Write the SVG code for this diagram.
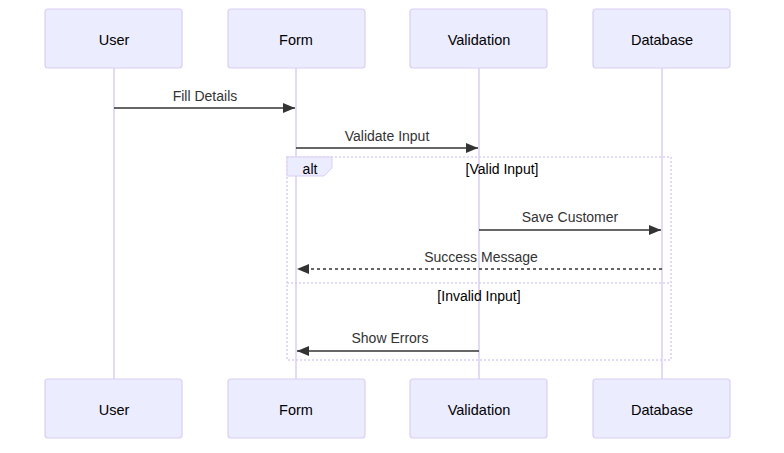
<svg xmlns="http://www.w3.org/2000/svg" width="784" height="453" viewBox="0 0 784 453">
<defs>
<style>
.actor{fill:#ECECFF;stroke:#DACEF3;stroke-width:1.2}
.atext{font-family:"Liberation Sans",Arial,sans-serif;font-size:14.5px;fill:#000;text-anchor:middle;dominant-baseline:central}
.life{stroke:#DACEF3;stroke-width:1.5}
.msg{stroke:#333;stroke-width:1.5;fill:none}
.dash{stroke-dasharray:3,3}
.mtext{font-family:"Liberation Sans",Arial,sans-serif;font-size:14px;fill:#333;text-anchor:middle}
.frame{fill:none;stroke:#DACEF3;stroke-width:1.5;stroke-dasharray:2,2}
.ltext{font-family:"Liberation Sans",Arial,sans-serif;font-size:14px;fill:#000;text-anchor:middle}
</style>
<marker id="ah" viewBox="0 0 12 10" refX="12" refY="5" markerWidth="12" markerHeight="10" markerUnits="userSpaceOnUse" orient="auto">
<path d="M0,0 L12,5 L0,10 z" fill="#333"/>
</marker>
</defs>
<g id="lifelines">
<line class="life" x1="114" y1="68" x2="114" y2="379"/>
<line class="life" x1="296" y1="68" x2="296" y2="379"/>
<line class="life" x1="479" y1="68" x2="479" y2="379"/>
<line class="life" x1="662" y1="68" x2="662" y2="379"/>
</g>
<g id="actor-user-top"><rect class="actor" x="45" y="9" width="137" height="59" rx="3"/><text class="atext" x="114" y="40">User</text></g>
<g id="actor-form-top"><rect class="actor" x="228" y="9" width="137" height="59" rx="3"/><text class="atext" x="296" y="40">Form</text></g>
<g id="actor-validation-top"><rect class="actor" x="410" y="9" width="137" height="59" rx="3"/><text class="atext" x="479" y="40">Validation</text></g>
<g id="actor-database-top"><rect class="actor" x="593" y="9" width="137" height="59" rx="3"/><text class="atext" x="662" y="40">Database</text></g>
<g id="alt-frame">
<rect class="frame" x="287" y="157" width="384" height="203"/>
<path d="M287,157 L332,157 L332,168 L324,176 L287,176 z" fill="#ECECFF" stroke="#DACEF3" stroke-width="1"/>
<text class="ltext" x="310" y="174">alt</text>
<text class="ltext" x="502" y="174">[Valid Input]</text>
<line class="frame" x1="287" y1="283" x2="671" y2="283"/>
<text class="ltext" x="479" y="301">[Invalid Input]</text>
</g>
<g id="connectors">
<line class="msg" x1="114" y1="108" x2="295" y2="108" marker-end="url(#ah)"/>
<text class="mtext" x="205" y="101">Fill Details</text>
<line class="msg" x1="296" y1="148" x2="478" y2="148" marker-end="url(#ah)"/>
<text class="mtext" x="387" y="141">Validate Input</text>
<line class="msg" x1="479" y1="230" x2="661" y2="230" marker-end="url(#ah)"/>
<text class="mtext" x="570" y="222">Save Customer</text>
<line class="msg dash" x1="662" y1="269" x2="297" y2="269" marker-end="url(#ah)"/>
<text class="mtext" x="481" y="262">Success Message</text>
<line class="msg" x1="479" y1="351" x2="297" y2="351" marker-end="url(#ah)"/>
<text class="mtext" x="390" y="343">Show Errors</text>
</g>
<g id="actor-user-bottom"><rect class="actor" x="45" y="379" width="137" height="59" rx="3"/><text class="atext" x="114" y="410">User</text></g>
<g id="actor-form-bottom"><rect class="actor" x="228" y="379" width="137" height="59" rx="3"/><text class="atext" x="296" y="410">Form</text></g>
<g id="actor-validation-bottom"><rect class="actor" x="410" y="379" width="137" height="59" rx="3"/><text class="atext" x="479" y="410">Validation</text></g>
<g id="actor-database-bottom"><rect class="actor" x="593" y="379" width="137" height="59" rx="3"/><text class="atext" x="662" y="410">Database</text></g>
</svg>
